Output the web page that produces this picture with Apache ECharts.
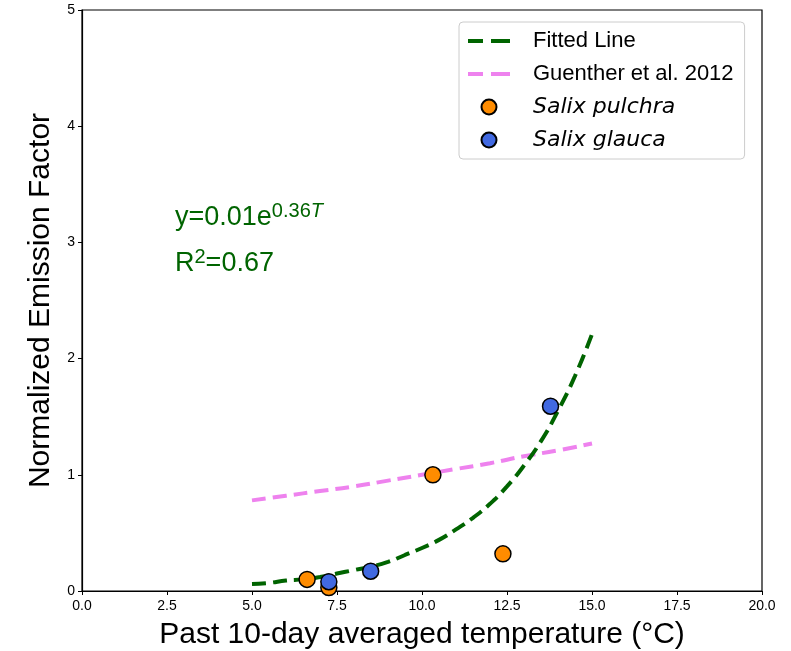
<!DOCTYPE html>
<html>
<head>
<meta charset="utf-8">
<script src="https://cdn.jsdelivr.net/npm/echarts@6/dist/echarts.min.js"></script>
<style>html,body{margin:0;padding:0;background:#fff}#c{width:791px;height:651px}</style>
</head>
<body>
<div id="c"></div>
<script>
// Data
const pulchraT = [6.62, 7.26, 10.32, 12.38];
const pulchraE = [0.10, 0.03, 1.00, 0.32];
const glaucaT = [7.26, 8.49, 13.78];
const glaucaE = [0.08, 0.17, 1.59];
const fitT = [5, 5.5, 6, 6.5, 7, 7.5, 8, 8.5, 9, 9.5, 10, 10.5, 11, 11.5, 12, 12.5, 13, 13.5, 14, 14.5, 15];
const fitE = [0.06, 0.07, 0.09, 0.10, 0.12, 0.15, 0.18, 0.21, 0.25, 0.31, 0.37, 0.44, 0.53, 0.63, 0.75, 0.90, 1.08, 1.29, 1.55, 1.85, 2.21];
const guenT = [5, 6, 7, 8, 9, 10, 11, 12, 13, 14, 15];
const guenE = [0.78, 0.82, 0.86, 0.90, 0.95, 1.00, 1.05, 1.10, 1.16, 1.21, 1.27];
const xTicks = [0, 2.5, 5, 7.5, 10, 12.5, 15, 17.5, 20];
const yTicks = [0, 1, 2, 3, 4, 5];

const zip = (a, b) => a.map((v, i) => [v, b[i]]);
const chart = echarts.init(document.getElementById('c'));
const font = 'Liberation Sans, Arial, Helvetica, sans-serif';
const dashIcon = 'path://M0,0h15v4h-15z M23,0h19v4h-19z';
chart.setOption({
  animation: false,
  textStyle: { fontFamily: font },
  grid: { left: 82, right: 29, top: 10, bottom: 60, show: true, borderColor: '#000', borderWidth: 1.2,
    outerBoundsMode: 'none', containLabel: false },
  xAxis: {
    type: 'value', min: xTicks[0], max: xTicks[xTicks.length - 1], interval: 2.5,
    name: 'Past 10-day averaged temperature (°C)', nameLocation: 'middle', nameGap: 29,
    nameTextStyle: { fontSize: 30, color: '#000', fontFamily: font },
    axisLine: { lineStyle: { color: '#000', width: 1.2 } },
    axisTick: { show: true, length: 4, lineStyle: { color: '#000' } },
    axisLabel: { fontSize: 14, color: '#000', margin: 8, formatter: v => v.toFixed(1), fontFamily: font },
    splitLine: { show: false }
  },
  yAxis: {
    type: 'value', min: yTicks[0], max: yTicks[yTicks.length - 1], interval: 1,
    name: 'Normalized Emission Factor', nameLocation: 'middle', nameGap: 26,
    nameTextStyle: { fontSize: 30, color: '#000', fontFamily: font },
    axisLine: { show: true, lineStyle: { color: '#000', width: 1.2 } },
    axisTick: { show: true, length: 4, lineStyle: { color: '#000' } },
    axisLabel: { fontSize: 14, color: '#000', margin: 7, fontFamily: font },
    splitLine: { show: false }
  },
  legend: {
    orient: 'vertical', left: 459, top: 22,
    backgroundColor: '#fff', borderColor: '#ccc', borderWidth: 1, borderRadius: 4,
    padding: [8, 11, 8, 9], itemGap: 11, itemWidth: 42, itemHeight: 15,
    textStyle: { fontSize: 22, color: '#000', fontFamily: font, padding: [0, 0, 0, 18],
      rich: { i: { fontStyle: 'italic', fontSize: 22, fontFamily: 'DejaVu Sans, sans-serif' } } },
    formatter: n => n.startsWith('Salix') ? '{i|' + n + '}' : n,
    data: [
      { name: 'Fitted Line', icon: dashIcon, itemStyle: { color: '#006400', borderWidth: 0 } },
      { name: 'Guenther et al. 2012', icon: dashIcon, itemStyle: { color: '#ee82ee', borderWidth: 0 } },
      { name: 'Salix pulchra' },
      { name: 'Salix glauca' }
    ]
  },
  graphic: [
    { type: 'text', left: 175, top: 201, style: {
      rich: {
        a: { fontSize: 27, fill: '#006400', fontFamily: font },
        s: { fontSize: 20, fill: '#006400', fontFamily: font, padding: [0, 0, 14, 0] },
        t: { fontSize: 20, fill: '#006400', fontFamily: font, fontStyle: 'italic', padding: [0, 0, 14, 0] }
      },
      text: '{a|y=0.01e}{s|0.36}{t|T}'
    } },
    { type: 'text', left: 175, top: 247, style: {
      rich: {
        a: { fontSize: 27, fill: '#006400', fontFamily: font },
        s: { fontSize: 20, fill: '#006400', fontFamily: font, padding: [0, 0, 14, 0] }
      },
      text: '{a|R}{s|2}{a|=0.67}'
    } }
  ],
  series: [
    { name: 'Fitted Line', type: 'line', data: zip(fitT, fitE), smooth: true, symbol: 'none', z: 3,
      lineStyle: { color: '#006400', width: 4, type: [14, 7] }, itemStyle: { color: '#006400' } },
    { name: 'Guenther et al. 2012', type: 'line', data: zip(guenT, guenE), smooth: true, symbol: 'none', z: 2,
      lineStyle: { color: '#ee82ee', width: 4, type: [14, 7] }, itemStyle: { color: '#ee82ee' } },
    { name: 'Salix pulchra', type: 'scatter', data: zip(pulchraT, pulchraE), symbolSize: 16, z: 4,
      itemStyle: { color: '#ff8c00', borderColor: '#000', borderWidth: 1.5, opacity: 1 } },
    { name: 'Salix glauca', type: 'scatter', data: zip(glaucaT, glaucaE), symbolSize: 16, z: 5,
      itemStyle: { color: '#4169e1', borderColor: '#000', borderWidth: 1.5, opacity: 1 } }
  ]
});
</script>
</body>
</html>
